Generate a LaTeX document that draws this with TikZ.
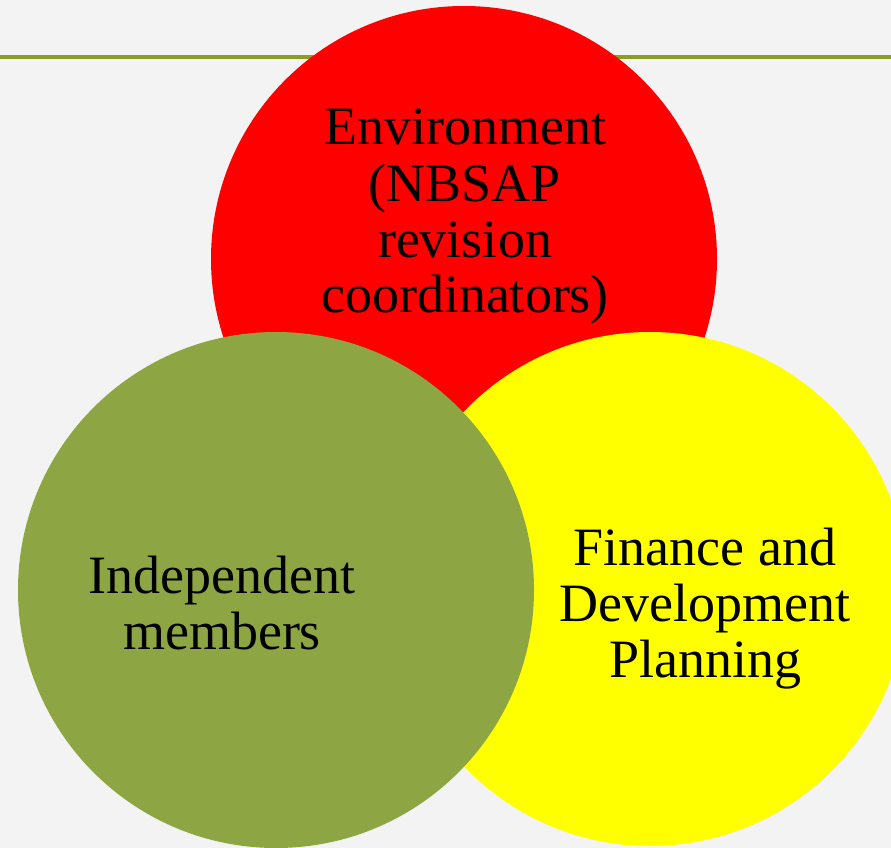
\documentclass[tikz,border=0pt]{standalone}
\usepackage{fontspec}
\setmainfont{Liberation Serif}
\definecolor{bggray}{RGB}{243,243,243}
\definecolor{olivegreen}{RGB}{141,165,66}
\definecolor{ruleolive}{RGB}{138,158,36}
\definecolor{redfill}{RGB}{255,0,0}
\definecolor{yellowfill}{RGB}{255,255,0}
\tikzset{
  x=1pt, y=-1pt,
  venn/.style={circle, inner sep=0pt, draw=none},
  lbl/.style={inner sep=0pt, anchor=base, text=black,
    font=\fontsize{54}{56}\selectfont},
}
\newcommand{\stacklines}[1]{\begin{tabular}[t]{@{}c@{}}#1\end{tabular}}
\begin{document}
\begin{tikzpicture}
  \useasboundingbox (0,0) rectangle (891,848);
  \clip (0,0) rectangle (891,848);
  \fill[bggray] (0,0) rectangle (891,848);
  \coordinate (ruleL) at (0,57);
  \coordinate (ruleR) at (891,57);
  \draw[ruleolive, line width=4pt] (ruleL) -- (ruleR);
  \node[venn, fill=redfill, minimum size=506pt] (env) at (464,259) {};
  \node[venn, fill=yellowfill, minimum size=514pt] (fin) at (650,589) {};
  \node[venn, fill=olivegreen, minimum size=516pt] (ind) at (276,590) {};
  \node[lbl] (envtxt) at (465,145) {\stacklines{Environment\\(NBSAP\\revision\\coordinators)}};
  \node[lbl] (indtxt) at (222,593) {\stacklines{Independent\\members}};
  \node[lbl] (fintxt) at (705,565) {\stacklines{Finance and\\Development\\Planning}};
\end{tikzpicture}
\end{document}
